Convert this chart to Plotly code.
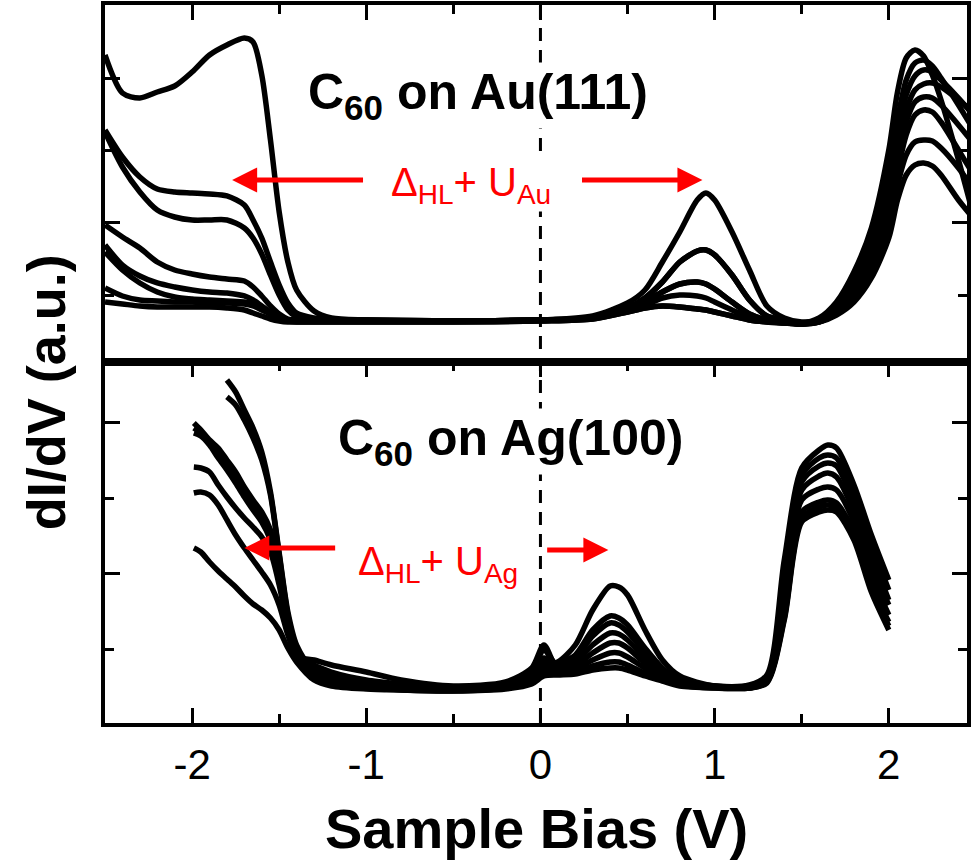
import plotly.graph_objects as go

# ---------------- DATA ----------------
# Sample bias grid for C60 on Au(111) (V)
V_AU = [-2.5, -2.4, -2.3, -2.2, -2.1, -2.0, -1.9, -1.8, -1.7, -1.65, -1.6, -1.55, -1.5, -1.45, -1.4, -1.3, -1.2, -1.0, -0.5, 0.0,
        0.3, 0.5, 0.6, 0.7, 0.8, 0.9, 0.95, 1.0, 1.1, 1.2, 1.3, 1.4, 1.5,
        1.6, 1.7, 1.8, 1.9, 2.0, 2.05, 2.1, 2.15, 2.2, 2.25, 2.3, 2.4, 2.47]

# Occupied-state side (V_AU[0:20]), dI/dV a.u.
AU_OCC_A = [27.5, 23.7, 23.2, 23.8, 24.4, 25.8, 27.5, 28.5, 29.2, 28.8, 25.5, 19.0, 11.8, 6.8, 4.0, 1.9, 1.2, 1.0, 0.9, 1.0]
AU_OCC_B = [20.0, 17.3, 15.3, 14.1, 13.8, 13.7, 13.6, 13.4, 12.5, 11.0, 9.2, 6.8, 4.5, 2.7, 1.7, 1.2, 1.0, 1.0, 0.9, 1.0]
AU_OCC_C = [19.8, 16.3, 13.8, 12.0, 11.3, 11.0, 11.0, 11.0, 10.2, 9.2, 7.6, 5.5, 3.5, 2.0, 1.3, 1.0, 1.0, 1.0, 0.9, 1.0]
AU_OCC_D = [10.5, 9.3, 8.2, 6.8, 6.0, 5.6, 5.3, 5.1, 4.9, 4.3, 3.4, 2.4, 1.6, 1.1, 1.0, 0.9, 0.9, 0.9, 0.9, 1.0]
AU_OCC_E = [8.5, 6.5, 5.4, 4.7, 4.3, 4.0, 3.8, 3.7, 3.4, 3.0, 2.4, 1.8, 1.3, 1.0, 0.9, 0.9, 0.9, 0.9, 0.9, 1.0]
AU_OCC_F = [7.8, 6.0, 4.7, 3.8, 3.3, 3.1, 3.0, 2.9, 2.8, 2.6, 2.2, 1.7, 1.2, 0.9, 0.9, 0.9, 0.9, 0.9, 0.9, 1.0]
AU_OCC_G = [4.2, 3.4, 3.0, 2.9, 2.8, 2.8, 2.7, 2.7, 2.6, 2.4, 2.0, 1.6, 1.2, 0.9, 0.8, 0.8, 0.8, 0.8, 0.8, 0.9]
AU_OCC_H = [2.8, 2.6, 2.4, 2.3, 2.3, 2.3, 2.3, 2.2, 2.0, 1.7, 1.4, 1.1, 0.9, 0.8, 0.8, 0.8, 0.8, 0.8, 0.8, 0.9]

# LUMO region (V_AU[20:33])
AU_LUMO_1 = [1.4, 2.7, 4.0, 6.8, 9.8, 13.0, 13.7, 13.0, 9.8, 6.0, 2.4, 1.2, 0.8]
AU_LUMO_2 = [1.2, 2.2, 3.2, 4.8, 6.8, 7.9, 8.0, 7.5, 5.5, 3.0, 1.4, 1.0, 0.7]
AU_LUMO_3 = [1.2, 2.0, 2.8, 3.8, 4.6, 4.8, 4.6, 4.1, 2.8, 1.6, 1.0, 0.8, 0.6]
AU_LUMO_4 = [1.2, 1.9, 2.5, 3.2, 3.5, 3.4, 3.2, 2.8, 2.0, 1.3, 0.9, 0.7, 0.6]
AU_LUMO_5 = [1.1, 1.8, 2.2, 2.4, 2.3, 2.1, 2.0, 1.8, 1.4, 1.0, 0.8, 0.7, 0.6]

# LUMO+1 region (V_AU[33:46])
AU_LUMO1_1 = [1.2, 2.8, 5.8, 10.2, 18.0, 23.8, 27.2, 28.0, 27.4, 25.5, 23.0, 17.0, 12.5]
AU_LUMO1_2 = [1.0, 2.4, 5.0, 9.0, 16.0, 21.0, 25.0, 26.7, 27.0, 26.4, 25.2, 22.5, 20.5]
AU_LUMO1_3 = [1.0, 2.2, 4.5, 8.2, 14.5, 19.5, 23.5, 25.4, 26.0, 25.8, 25.0, 23.2, 21.8]
AU_LUMO1_4 = [0.9, 2.0, 4.0, 7.5, 13.5, 18.2, 22.0, 24.0, 24.6, 24.7, 24.3, 23.0, 22.0]
AU_LUMO1_5 = [0.9, 1.9, 3.8, 7.0, 12.5, 17.0, 20.8, 22.8, 23.3, 23.2, 22.5, 20.5, 19.0]
AU_LUMO1_6 = [0.8, 1.8, 3.5, 6.5, 11.5, 15.8, 19.5, 21.5, 22.0, 21.8, 20.8, 18.0, 16.0]
AU_LUMO1_7 = [0.8, 1.7, 3.2, 6.0, 10.5, 14.5, 17.5, 18.8, 19.0, 18.9, 18.2, 16.2, 14.5]
AU_LUMO1_8 = [0.8, 1.5, 2.8, 5.2, 9.2, 13.0, 15.5, 16.5, 16.7, 16.4, 15.5, 13.0, 11.5]

# Sample bias grid for C60 on Ag(100) (V)
V_AG = [-1.99, -1.95, -1.9, -1.85, -1.8, -1.75, -1.7, -1.65, -1.6, -1.55, -1.5, -1.45, -1.4,
        -1.3, -1.2, -1.0, -0.8, -0.5, -0.2, -0.05, 0.02,
        0.1, 0.2, 0.3, 0.4, 0.45, 0.5, 0.6, 0.7, 0.8,
        1.0, 1.2, 1.3, 1.4, 1.5, 1.6, 1.65, 1.7, 1.8, 1.9, 2.0]

# Occupied side (V_AG[0:13]); None = not measured
AG_OCC_1 = [None, None, None, None, 32.0, 30.8, 29.0, 27.2, 24.8, 20.8, 14.7, 8.8, 5.5]
AG_OCC_2 = [None, None, None, None, 30.3, 29.5, 28.0, 26.2, 24.0, 20.5, 14.5, 8.5, 5.0]
AG_OCC_3 = [27.7, 27.0, 26.0, 25.2, 24.0, 22.8, 21.3, 20.0, 18.8, 17.0, 13.5, 8.0, 4.8]
AG_OCC_4 = [26.7, 26.4, 25.5, 24.2, 23.0, 21.7, 20.3, 19.0, 17.8, 16.0, 12.5, 7.5, 4.5]
AG_OCC_5 = [23.3, 23.2, 22.8, 21.5, 20.3, 19.2, 18.2, 17.3, 16.3, 14.8, 11.5, 7.2, 4.4]
AG_OCC_6 = [20.7, 20.8, 20.5, 19.5, 18.0, 16.5, 15.2, 14.0, 12.8, 11.5, 9.5, 6.5, 4.2]
AG_OCC_7 = [15.2, 14.8, 13.8, 12.9, 12.1, 11.3, 10.4, 9.6, 9.0, 8.2, 7.0, 5.2, 3.8]
AG_OCC_8 = [27.2, 26.7, 25.8, 24.8, 23.5, 22.2, 20.8, 19.5, 18.3, 16.5, 13.0, 7.8, 4.6]

# Gap region (V_AG[13:21])
AG_GAP_1 = [2.8, 2.0, 1.4, 1.2, 1.0, 1.4, 2.0, 3.0]
AG_GAP_2 = [2.5, 1.8, 1.3, 1.1, 1.0, 1.3, 2.2, 3.5]
AG_GAP_3 = [3.5, 2.8, 2.0, 1.6, 1.2, 1.6, 2.8, 5.0]
AG_GAP_4 = [3.2, 2.5, 1.7, 1.4, 1.1, 1.5, 2.5, 4.2]
AG_GAP_5 = [4.0, 3.5, 2.8, 2.0, 1.4, 1.8, 3.2, 5.5]
AG_GAP_6 = [2.2, 1.6, 1.2, 1.0, 0.9, 1.2, 1.8, 2.8]
AG_GAP_7 = [2.0, 1.4, 1.1, 1.0, 0.9, 1.1, 1.6, 2.4]
AG_GAP_8 = [3.0, 2.3, 1.5, 1.2, 1.0, 1.4, 2.3, 3.8]

# LUMO region (V_AG[21:30])
AG_LUMO_1 = [3.8, 5.5, 9.0, 11.4, 11.3, 10.5, 7.0, 4.0, 2.4]
AG_LUMO_2 = [3.6, 4.5, 7.0, 8.4, 8.2, 7.5, 5.2, 3.2, 2.0]
AG_LUMO_3 = [3.4, 4.2, 6.4, 7.7, 7.5, 6.8, 4.8, 3.0, 1.9]
AG_LUMO_4 = [3.3, 3.8, 5.5, 6.7, 6.6, 6.0, 4.2, 2.7, 1.8]
AG_LUMO_5 = [3.1, 3.4, 4.7, 5.7, 5.7, 5.2, 3.7, 2.5, 1.7]
AG_LUMO_6 = [2.9, 3.1, 4.0, 4.7, 4.7, 4.3, 3.2, 2.3, 1.6]
AG_LUMO_7 = [2.7, 2.8, 3.4, 3.8, 3.8, 3.5, 2.7, 2.1, 1.5]
AG_LUMO_8 = [2.5, 2.6, 3.0, 3.2, 3.2, 3.0, 2.4, 1.9, 1.4]

# LUMO+1 region (V_AG[30:41])
AG_LUMO1_1 = [1.4, 1.5, 2.5, 14.0, 23.2, 25.0, 25.5, 25.2, 21.5, 16.5, 12.0]
AG_LUMO1_2 = [1.4, 1.4, 2.2, 12.5, 22.5, 24.2, 24.5, 24.2, 20.5, 15.5, 11.0]
AG_LUMO1_3 = [1.4, 1.4, 2.1, 11.5, 21.8, 23.4, 23.7, 23.4, 19.7, 14.5, 10.0]
AG_LUMO1_4 = [1.3, 1.3, 2.0, 10.5, 21.0, 22.4, 22.7, 22.3, 18.8, 13.5, 9.5]
AG_LUMO1_5 = [1.3, 1.3, 1.9, 9.5, 20.0, 21.1, 21.3, 21.0, 17.8, 12.5, 8.5]
AG_LUMO1_6 = [1.3, 1.2, 1.8, 8.8, 18.8, 19.8, 20.0, 19.7, 16.8, 11.5, 7.8]
AG_LUMO1_7 = [1.2, 1.2, 1.7, 8.0, 17.8, 18.8, 19.0, 18.8, 16.0, 10.8, 7.0]
AG_LUMO1_8 = [1.2, 1.2, 1.8, 8.2, 18.2, 19.3, 19.5, 19.2, 16.4, 11.2, 7.4]

# Tick values
X_MAJOR = [-2, -1, 0, 1, 2]
X_MINOR = [-1.5, -0.5, 0.5, 1.5]
AU_Y_MAJOR = [10.7, 25.2]
AU_Y_MINOR = [3.45, 17.95]
AG_Y_MAJOR = [12.6, 27.7]
AG_Y_MINOR = [5.05, 20.15]

AU_CURVES = [
    AU_OCC_A + AU_LUMO_2 + AU_LUMO1_1,
    AU_OCC_B + AU_LUMO_1 + AU_LUMO1_3,
    AU_OCC_C + AU_LUMO_2 + AU_LUMO1_2,
    AU_OCC_D + AU_LUMO_3 + AU_LUMO1_4,
    AU_OCC_E + AU_LUMO_3 + AU_LUMO1_5,
    AU_OCC_F + AU_LUMO_4 + AU_LUMO1_6,
    AU_OCC_G + AU_LUMO_5 + AU_LUMO1_7,
    AU_OCC_H + AU_LUMO_5 + AU_LUMO1_8,
]
AG_CURVES = [
    AG_OCC_1 + AG_GAP_1 + AG_LUMO_2 + AG_LUMO1_1,
    AG_OCC_2 + AG_GAP_2 + AG_LUMO_1 + AG_LUMO1_2,
    AG_OCC_3 + AG_GAP_3 + AG_LUMO_3 + AG_LUMO1_3,
    AG_OCC_4 + AG_GAP_4 + AG_LUMO_4 + AG_LUMO1_4,
    AG_OCC_5 + AG_GAP_5 + AG_LUMO_5 + AG_LUMO1_5,
    AG_OCC_6 + AG_GAP_6 + AG_LUMO_6 + AG_LUMO1_6,
    AG_OCC_7 + AG_GAP_7 + AG_LUMO_8 + AG_LUMO1_7,
    AG_OCC_8 + AG_GAP_8 + AG_LUMO_7 + AG_LUMO1_8,
]

# ---------------- FIGURE ----------------
FONT = "Liberation Sans, Arial, sans-serif"
LW = 5.5

fig = go.Figure()
for ys in AU_CURVES:
    fig.add_trace(go.Scatter(x=V_AU, y=ys, xaxis="x2", yaxis="y2", mode="lines",
                             line=dict(color="black", width=LW, shape="spline", smoothing=0.8),
                             showlegend=False, hoverinfo="skip"))
for ys in AG_CURVES:
    fig.add_trace(go.Scatter(x=V_AG, y=ys, xaxis="x", yaxis="y", mode="lines",
                             line=dict(color="black", width=LW, shape="spline", smoothing=0.8),
                             showlegend=False, hoverinfo="skip"))

XR = [-2.5, 2.449]
SPLIT = 0.5028


def minor_ticks(vals):
    return dict(tickmode="array", tickvals=vals, ticks="inside", ticklen=9, tickwidth=3,
                tickcolor="black", showgrid=False)


axis_common = dict(showline=True, linecolor="black", linewidth=4, showgrid=False, zeroline=False,
                   ticks="inside", ticklen=15, tickwidth=3, tickcolor="black")

fig.update_layout(
    width=971, height=864,
    margin=dict(l=105, r=0, t=5, b=141),
    paper_bgcolor="white", plot_bgcolor="white",
    font=dict(family=FONT, color="black"),
    xaxis=dict(domain=[0, 1], anchor="y", range=XR, tickmode="array", tickvals=X_MAJOR,
               ticktext=[str(t) for t in X_MAJOR], mirror="ticks",
               tickfont=dict(size=42, family=FONT), ticklabelstandoff=2,
               minor=minor_ticks(X_MINOR), **axis_common),
    yaxis=dict(domain=[0, SPLIT], anchor="x", range=[-2.3, 33.8], tickmode="array",
               tickvals=AG_Y_MAJOR, showticklabels=False, mirror="ticks",
               minor=minor_ticks(AG_Y_MINOR), **axis_common),
    xaxis2=dict(domain=[0, 1], anchor="y2", range=XR, side="top", tickmode="array",
                tickvals=X_MAJOR, showticklabels=False, mirror=True,
                minor=minor_ticks(X_MINOR), **axis_common),
    yaxis2=dict(domain=[SPLIT, 1], anchor="x2", range=[-3.2, 32.5], tickmode="array",
                tickvals=AU_Y_MAJOR, showticklabels=False, mirror="ticks",
                minor=minor_ticks(AU_Y_MINOR), **axis_common),
)

# dashed zero-bias line across both panels
fig.add_shape(type="line", xref="x", yref="paper", x0=0, x1=0, y0=0, y1=1,
              line=dict(color="black", width=3, dash="13px,9px"), layer="below")

RED = "#ff0000"
annos = [
    dict(x=-0.36, y=23.5, xref="x2", yref="y2", text="<b>C<sub>60</sub> on Au(111)</b>",
         font=dict(size=50, family=FONT, color="black"), showarrow=False, bgcolor="white"),
    dict(x=-0.17, y=25.8, xref="x", yref="y", text="<b>C<sub>60</sub> on Ag(100)</b>",
         font=dict(size=50, family=FONT, color="black"), showarrow=False, bgcolor="white"),
    dict(x=-0.40, y=14.5, xref="x2", yref="y2", text="Δ<sub>HL</sub>+ U<sub>Au</sub>",
         font=dict(size=40, family=FONT, color=RED), showarrow=False, bgcolor="white"),
    dict(x=-0.59, y=13.6, xref="x", yref="y", text="Δ<sub>HL</sub>+ U<sub>Ag</sub>",
         font=dict(size=40, family=FONT, color=RED), showarrow=False, bgcolor="white"),
    # arrows (head at x,y ; tail at ax,ay)
    dict(x=-1.77, y=15.0, ax=-1.01, ay=15.0, xref="x2", yref="y2", axref="x2", ayref="y2",
         text="", showarrow=True, arrowhead=2, arrowsize=1.0, arrowwidth=5, arrowcolor=RED),
    dict(x=0.93, y=15.0, ax=0.23, ay=15.0, xref="x2", yref="y2", axref="x2", ayref="y2",
         text="", showarrow=True, arrowhead=2, arrowsize=1.0, arrowwidth=5, arrowcolor=RED),
    dict(x=-1.70, y=15.2, ax=-1.17, ay=15.2, xref="x", yref="y", axref="x", ayref="y",
         text="", showarrow=True, arrowhead=2, arrowsize=1.0, arrowwidth=5, arrowcolor=RED),
    dict(x=0.39, y=15.0, ax=0.03, ay=15.0, xref="x", yref="y", axref="x", ayref="y",
         text="", showarrow=True, arrowhead=2, arrowsize=1.0, arrowwidth=5, arrowcolor=RED),
    # axis titles
    dict(x=0.5, y=-0.147, xref="paper", yref="paper", text="<b>Sample Bias (V)</b>",
         font=dict(size=56, family=FONT, color="black"), showarrow=False,
         xanchor="center", yanchor="middle"),
    dict(x=-0.069, y=0.46, xref="paper", yref="paper", text="<b>dI/dV (a.u.)</b>", textangle=-90,
         font=dict(size=54, family=FONT, color="black"), showarrow=False,
         xanchor="center", yanchor="middle"),
]
fig.update_layout(annotations=annos)

fig.write_html("out.html")
